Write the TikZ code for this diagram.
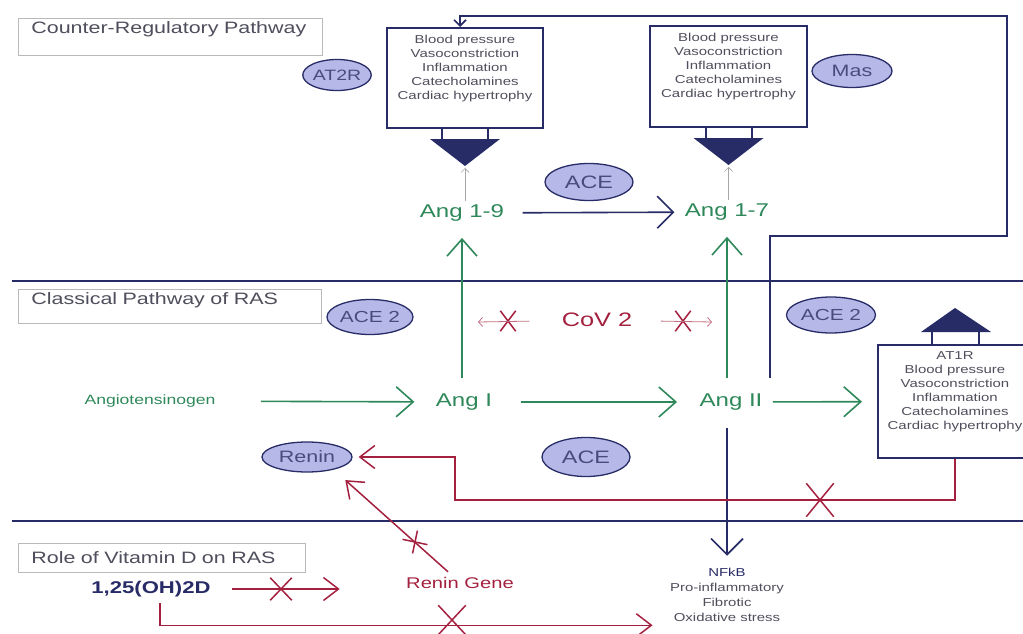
\documentclass[tikz,border=0pt]{standalone}
\usepackage{fontspec}
\setmainfont[FakeStretch=1.3]{Liberation Sans}
\usetikzlibrary{shapes.geometric, shapes.misc, arrows.meta, calc}
\definecolor{navy}{RGB}{40,44,102}
\definecolor{ragreen}{RGB}{46,136,90}
\definecolor{rared}{RGB}{163,32,62}
\definecolor{lav}{RGB}{182,184,232}
\definecolor{txtgray}{RGB}{78,78,92}
\newcommand{\fsz}[2]{\fontsize{#1}{#2}\selectfont}
\tikzstyle{sectbox} = [rectangle, draw=gray!55, line width=0.8pt, text=txtgray, align=left, inner xsep=13pt, inner ysep=3pt, anchor=north west, font=\fsz{16.5}{19}]
\tikzstyle{effect} = [rectangle, draw=navy, line width=2pt, align=center, text=txtgray, font=\fsz{11.5}{14}]
\tikzstyle{enzyme} = [ellipse, draw=navy, line width=1.3pt, fill=lav, text=navy!85, inner sep=0pt]
\tikzstyle{ang} = [text=ragreen, font=\fsz{18.5}{22}]
\tikzstyle{garrow} = [ragreen, line width=1.6pt, -{Straight Barb[length=17pt,width=30pt]}]
\tikzstyle{narrow} = [navy, line width=1.6pt, -{Straight Barb[length=16pt,width=32pt]}]
\tikzstyle{rarrow} = [rared, line width=1.5pt, -{Straight Barb[length=15pt,width=23pt]}]
\tikzstyle{thinred} = [rared!65, line width=0.8pt, -{Straight Barb[length=4pt,width=9pt]}]
\tikzstyle{thingray} = [gray!70, line width=0.7pt, -{Straight Barb[length=4pt,width=8pt]}]
\tikzstyle{blockx} = [cross out, draw=rared, line width=1.5pt, inner sep=0pt]
\tikzstyle{divider} = [navy, line width=1.6pt]
\tikzstyle{leg} = [navy, line width=2pt]

\begin{document}
\begin{tikzpicture}[x=1pt, y=-1pt]
\useasboundingbox (0,0) rectangle (1023,634);

% section titles and dividers
\node (crtitle) [sectbox, text width=278pt, text depth=19pt] at (18,18) {Counter-Regulatory Pathway};
\node (cptitle) [sectbox, text width=277pt, text depth=16pt] at (18,289) {Classical Pathway of RAS};
\node (vdtitle) [sectbox, text width=261pt, minimum height=29pt] at (18,543) {Role of Vitamin D on RAS};
\draw [divider] (12,281) -- (1023,281);
\draw [divider] (12,521) -- (1023,521);

% effect boxes
\node (at2box) [effect, minimum width=156pt, minimum height=100pt] at (465,78) {Blood pressure\\Vasoconstriction\\Inflammation\\Catecholamines\\Cardiac hypertrophy\\[4pt]\strut};
\node (masbox) [effect, minimum width=157pt, minimum height=101pt] at (728.5,76.5) {Blood pressure\\Vasoconstriction\\Inflammation\\Catecholamines\\Cardiac hypertrophy\\[4pt]\strut};
\node (at1box) [effect, minimum width=154pt, minimum height=113pt] at (955,401.5) {AT1R\\Blood pressure\\Vasoconstriction\\Inflammation\\Catecholamines\\Cardiac hypertrophy\\[4pt]\strut};

% receptors
\foreach \b in {at2box,masbox}{
  \draw [leg] ($(\b.south)+(-23,0)$) -- ++(0,10);
  \draw [leg] ($(\b.south)+(23,0)$) -- ++(0,10);
  \fill [navy] ($(\b.south)+(-35,10)$) -- ($(\b.south)+(35,10)$) -- ($(\b.south)+(0,37)$) -- cycle;
  \coordinate (\b-tip) at ($(\b.south)+(0,39)$);
}
\draw [leg] ($(at1box.north)+(-23,0)$) -- ++(0,-12);
\draw [leg] ($(at1box.north)+(24,0)$) -- ++(0,-12);
\fill [navy] ($(at1box.north)+(-34,-12)$) -- ($(at1box.north)+(36,-12)$) -- ($(at1box.north)+(0,-36)$) -- cycle;

% enzymes
\node (at2r) [enzyme, minimum width=66pt, minimum height=31pt, font=\fsz{15}{18}] at (337,75) {AT2R};
\node (mas) [enzyme, minimum width=80pt, minimum height=33pt, font=\fsz{16.5}{19}] at (852,71) {Mas};
\node (acetop) [enzyme, minimum width=88pt, minimum height=37pt, font=\fsz{18}{21}] at (589,182) {ACE};
\node (ace2l) [enzyme, minimum width=86pt, minimum height=35pt, font=\fsz{16}{19}] at (370,317) {ACE 2};
\node (ace2r) [enzyme, minimum width=89pt, minimum height=36pt, font=\fsz{16}{19}] at (831,315) {ACE 2};
\node (acebot) [enzyme, minimum width=88pt, minimum height=39pt, font=\fsz{18}{21}] at (586,457) {ACE};
\node (renin) [enzyme, minimum width=90pt, minimum height=30pt, font=\fsz{16.5}{19}] at (307,457) {Renin};

% angiotensins
\node (ang19) [ang] at (462,213) {Ang 1-9};
\node (ang17) [ang] at (727,212) {Ang 1-7};
\node (angI) [ang] at (464,402) {Ang I};
\node (angII) [ang] at (731,402) {Ang II};
\node (angio) [text=ragreen, font=\fsz{13.5}{16}] at (150,401) {Angiotensinogen};
\node (cov) [text=rared, font=\fsz{19.5}{22}] at (597,320) {CoV 2};
\node (rgene) [text=rared, font=\fsz{15.5}{18}] at (460,583) {Renin Gene};
\node (vitD) [text=navy, font=\bfseries\fsz{17}{20}] at (151,589) {1,25(OH)2D};
\node (nfkb) [text=txtgray, align=center, font=\fsz{11.5}{15}] at (727,595) {\textcolor{navy}{NFkB}\\Pro-inflammatory\\Fibrotic\\Oxidative stress};

% blocks
\node (xcovl) [blockx, minimum width=14pt, minimum height=19pt] at (508,321) {};
\node (xcovr) [blockx, minimum width=14pt, minimum height=19pt] at (683,321) {};
\node (xvit) [blockx, minimum width=20pt, minimum height=21pt] at (281,589) {};
\coordinate (covl) at (478,322);
\coordinate (covr) at (712,322);
\coordinate (loopstart) at (770,378);
\coordinate (redturn) at (455,500);

% Arrows
\draw [garrow, yshift=-3pt, shorten <=42pt, shorten >=18pt] (angio) -- (angI);
\draw [garrow, yshift=-3pt, shorten <=25pt, shorten >=19pt] (angI) -- (angII);
\draw [garrow, shorten <=7pt, shorten >=15pt] (angII) -- (at1box);
\draw [garrow, shorten <=12pt, shorten >=13pt] (angI.north -| ang19.south) -- (ang19.south);
\draw [garrow, shorten <=12pt, shorten >=13pt] (angII.north -| ang17.south) -- (ang17.south);
\draw [narrow, yshift=-4pt, shorten <=15pt, shorten >=7pt] (ang19) -- (ang17);
\draw [thingray] (ang19.north -| at2box-tip) -- (at2box-tip);
\draw [thingray] (ang17.north -| masbox-tip) -- (masbox-tip);
\draw [navy, line width=1.6pt, -{Straight Barb[length=6pt,width=12pt]}] (loopstart) |- (1007,236) -- (1007,16) -| ([xshift=-5pt]at2box.north);
\draw [narrow, shorten <=14pt, shorten >=9pt] (angII.south -| nfkb.north) -- (nfkb.north);
\draw [thinred, shorten <=29pt] (cov) -- (covl);
\draw [thinred, shorten <=25pt] (cov) -- (covr);
\draw [rarrow, shorten >=6pt] (at1box.south) |- (redturn) |- (renin.east);
\node (xfb) [blockx, minimum width=26pt, minimum height=32pt] at (820,500) {};
\draw [rarrow] ($(rgene.north)+(-12,-2)$) -- ($(renin.south east)+(6,12)$);
\node (xgene) [minimum width=25pt, minimum height=23pt, inner sep=0pt, rotate=-12] at (415,542) {};
\draw [rared, line width=1.5pt] (xgene.north) -- (xgene.south) (xgene.west) -- (xgene.east);
\draw [rarrow, shorten <=18pt, shorten >=63pt] (vitD.east) -- (vitD.east -| rgene.west);
\draw [rarrow, shorten >=14pt] ($(vitD.south)+(9,3)$) |- (nfkb.south west);
\node (xvitnf) [blockx, minimum width=26pt, minimum height=28pt] at (452,620) {};
\end{tikzpicture}
\end{document}
